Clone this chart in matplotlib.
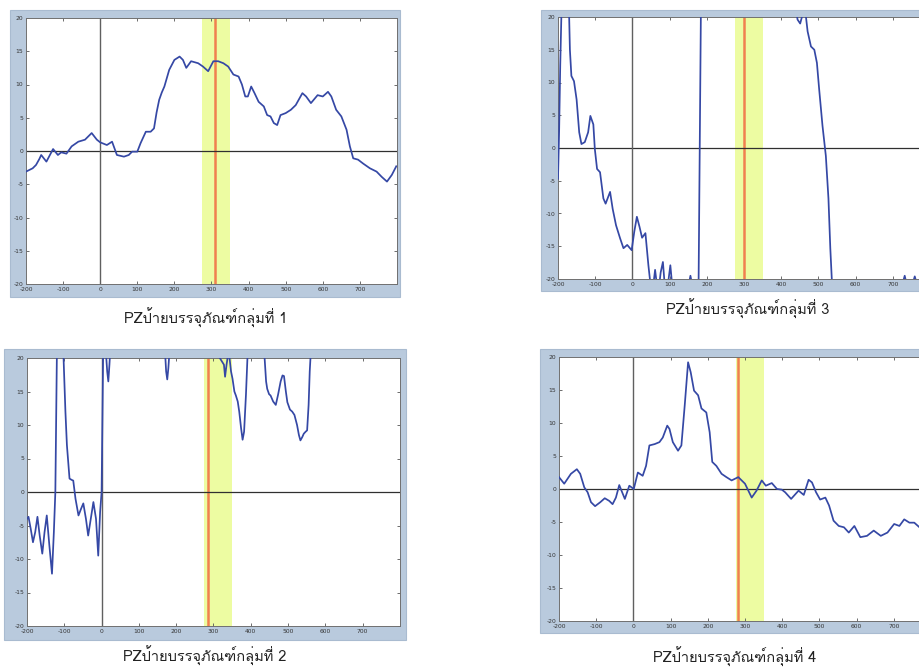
import matplotlib
matplotlib.use("Agg")
import matplotlib.pyplot as plt
from matplotlib.patches import Rectangle
from matplotlib import font_manager
from matplotlib.ft2font import FT2Font

plt.rcParams["axes.unicode_minus"] = False

# ---------------- data (time in ms, amplitude in uV) ----------------
t1 = [-200, -182, -173, -164, -159, -145, -127, -114, -105, -91, -77, -59, -41, -23, -9,
      0, 18, 32, 45, 64, 77, 86, 100, 109, 123, 136, 145, 152, 159, 166, 173, 186, 200,
      214, 223, 232, 245, 264, 277, 291, 305, 318, 332, 345, 359, 373, 382, 391, 398,
      407, 416, 427, 441, 450, 459, 468, 477, 486, 500, 514, 527, 545, 555, 568, 586,
      600, 614, 623, 636, 650, 664, 673, 682, 695, 709, 727, 745, 759, 773, 786, 798]
v1 = [-3.1, -2.6, -2.1, -1.2, -0.6, -1.6, 0.3, -0.6, -0.2, -0.4, 0.7, 1.4, 1.7, 2.7, 1.7,
      1.3, 0.9, 1.4, -0.6, -0.85, -0.6, -0.1, -0.1, 1.2, 2.9, 2.9, 3.4, 5.8, 7.7, 8.8, 9.7, 12.2, 13.7,
      14.2, 13.7, 12.5, 13.5, 13.2, 12.7, 12.0, 13.5, 13.5, 13.2, 12.7, 11.5, 11.2, 10.0, 8.2, 8.2,
      9.7, 8.7, 7.4, 6.7, 5.4, 5.2, 4.2, 3.9, 5.4, 5.7, 6.2, 6.9, 8.7, 8.2, 7.2, 8.4,
      8.2, 8.9, 8.2, 6.2, 5.2, 3.2, 0.7, -1.1, -1.3, -1.9, -2.6, -3.1, -3.9, -4.6, -3.6, -2.3]

t2 = [-200, -196, -190, -184, -178, -172, -166, -159, -153, -147, -140, -133, -128, -124,
      -120, -116, -105, -102, -97, -93, -86, -80, -76, -70, -62, -55, -49, -42, -36, -29,
      -22, -15, -9, -4, 0, 4, 8, 12, 15, 18, 21, 24, 100, 170, 173, 176, 179, 182, 250,
      328, 331, 335, 339, 343, 347, 351, 356, 360, 365, 369, 374, 378, 382, 387, 391, 395,
      430, 437, 441, 444, 449, 453, 460, 467, 473, 480, 485, 489, 494, 498, 505, 511, 517,
      524, 529, 533, 538, 542, 547, 551, 555, 558, 560, 563, 800]
v2 = [-4.0, -3.7, -5.5, -7.5, -6.0, -3.7, -6.5, -9.2, -6.0, -3.5, -8.0, -12.2, -6.0, 0.0,
      20.0, 28.0, 28.0, 20.0, 12.0, 7.0, 2.0, 1.8, 1.7, -1.0, -3.5, -2.5, -1.7, -4.0, -6.5, -4.0,
      -1.5, -4.0, -9.5, -3.0, 0.0, 20.0, 26.0, 20.5, 18.0, 16.5, 19.0, 22.0, 28.0, 21.0, 18.0, 16.8, 18.5, 21.0, 26.0,
      19.0, 17.2, 19.0, 20.5, 20.0, 18.0, 16.9, 15.0, 14.4, 13.5, 12.0, 9.5, 7.8, 9.0, 14.5, 20.0, 26.0,
      25.0, 20.0, 16.5, 15.4, 14.6, 14.4, 13.5, 13.0, 14.5, 16.5, 17.4, 17.3, 15.0, 13.4, 12.3, 12.0, 11.5,
      10.0, 8.5, 7.7, 8.2, 8.7, 9.0, 9.2, 13.0, 18.0, 20.0, 26.0, 28.0]

t3 = [-200, -197, -194, -191, -185, -175, -170, -168, -164, -157, -150, -143, -137, -128,
      -119, -113, -105, -101, -95, -87, -78, -72, -60, -53, -44, -33, -24, -14, -2, 5, 12,
      19, 26, 35, 43, 48, 54, 61, 66, 70, 76, 82, 87, 94, 102, 107, 115, 140, 151, 156,
      161, 170, 178, 181, 184, 188, 300, 440, 444, 451, 458, 464, 467, 471, 480, 489, 496,
      502, 511, 520, 527, 532, 536, 540, 600, 700, 725, 732, 738, 752, 759, 766, 800]
v3 = [-4.7, 2.5, 12.6, 20.0, 28.0, 28.0, 20.0, 15.0, 11.0, 10.2, 7.4, 2.4, 0.6, 0.9,
      2.4, 4.9, 3.6, -0.15, -3.2, -3.7, -7.7, -8.5, -6.7, -9.3, -11.8, -13.8, -15.3, -14.8, -15.6, -12.8, -10.5,
      -12.0, -13.7, -13.0, -17.9, -20.5, -22.0, -18.6, -21.0, -22.0, -19.0, -17.4, -21.0, -21.5, -17.9, -21.0, -24.0, -24.0, -21.0, -19.5,
      -21.0, -26.0, -20.0, 0.0, 20.0, 28.0, 28.0, 21.0, 19.6, 19.0, 20.5, 21.0, 19.8, 17.8, 15.5, 15.0, 13.0,
      9.0, 3.4, -1.2, -7.7, -15.3, -20.0, -26.0, -30.0, -24.0, -21.0, -19.5, -21.0, -21.0, -19.6, -21.0, -22.0]

t4 = [-200, -186, -168, -152, -143, -132, -123, -114, -103, -89, -77, -65, -56, -47, -38,
      -32, -23, -11, 1, 12, 25, 34, 43, 57, 70, 79, 91, 97, 106, 120, 129, 138, 147, 154,
      163, 174, 183, 196, 205, 212, 223, 237, 250, 264, 282, 300, 318, 331, 345, 356, 372,
      386, 399, 408, 424, 444, 458, 471, 480, 491, 502, 516, 526, 538, 552, 566, 579, 594,
      610, 628, 646, 665, 683, 701, 715, 728, 742, 755, 769, 800]
v4 = [1.8, 0.8, 2.3, 3.0, 2.3, 0.25, -0.5, -2.0, -2.6, -2.0, -1.4, -1.8, -2.3, -1.3, 0.6,
      -0.25, -1.5, 0.5, 0.0, 2.5, 2.0, 3.5, 6.6, 6.8, 7.1, 7.8, 9.6, 9.1, 7.1, 5.8, 6.6, 12.7, 19.2, 17.7,
      14.9, 14.2, 12.2, 11.6, 8.6, 4.1, 3.5, 2.3, 1.8, 1.3, 1.8, 0.8, -1.3, -0.25, 1.3, 0.5, 0.9,
      0.0, -0.1, -0.5, -1.5, -0.25, -0.9, 1.4, 1.0, -0.5, -1.6, -1.3, -2.5, -4.8, -5.6, -5.8, -6.6, -5.6,
      -7.3, -7.1, -6.3, -7.1, -6.6, -5.3, -5.6, -4.6, -5.1, -5.1, -5.8, -5.5]

titles = ["PZป้ายบรรจุภัณฑ์กลุ่มที่ 1", "PZป้ายบรรจุภัณฑ์กลุ่มที่ 2",
          "PZป้ายบรรจุภัณฑ์กลุ่มที่ 3", "PZป้ายบรรจุภัณฑ์กลุ่มที่ 4"]
window = [275, 350]              # shaded analysis window (ms)
markers = [310, 284, 300, 280]   # latency marker per group (ms)
xticks = list(range(-200, 800, 100))
yticks = list(range(-20, 25, 5))


def thai_family():
    for f in font_manager.fontManager.ttflist:
        try:
            cmap = FT2Font(f.fname).get_charmap()
        except Exception:
            continue
        if 0x0E1B in cmap and 0x0E49 in cmap and 0x0E20 in cmap:
            return f.name
    return None


fam = thai_family()
title_family = [fam, "DejaVu Sans"] if fam else ["DejaVu Sans"]

W, H = 920, 670
fig = plt.figure(figsize=(W / 100, H / 100), dpi=100)
fig.patch.set_facecolor("white")

# pixel layout: frame box, axes box, caption position
panels = [
    dict(t=t1, v=v1, frame=(10, 10, 400, 297), ax=(26, 18, 397, 284), cap=(206, 318)),
    dict(t=t2, v=v2, frame=(4, 349, 406, 640), ax=(27, 358, 400, 626), cap=(205, 656)),
    dict(t=t3, v=v3, frame=(541, 10, 960, 291), ax=(558, 17, 930, 279), cap=(748, 309)),
    dict(t=t4, v=v4, frame=(540, 349, 960, 633), ax=(559, 357, 931, 621), cap=(735, 657)),
]

for i, p in enumerate(panels):
    fx0, fy0, fx1, fy1 = p["frame"]
    fig.add_artist(Rectangle((fx0 / W, 1 - fy1 / H), (fx1 - fx0) / W, (fy1 - fy0) / H,
                             transform=fig.transFigure, facecolor="#b9cadd",
                             edgecolor="#a9bbd0", lw=0.8, zorder=0))
    ax0, ay0, ax1, ay1 = p["ax"]
    ax = fig.add_axes([ax0 / W, 1 - ay1 / H, (ax1 - ax0) / W, (ay1 - ay0) / H])
    ax.set_facecolor("white")
    ax.axvspan(window[0], window[1], color="#edfca2", lw=0, zorder=1)
    ax.axvline(markers[i], color="#f0804f", lw=1.8, zorder=2)
    ax.axhline(0, color="#303030", lw=0.9, zorder=2)
    ax.axvline(0, color="#606060", lw=1.0, zorder=2)
    ax.plot(p["t"], p["v"], color="#3548a5", lw=1.25, zorder=3)
    ax.set_xlim(-200, 800)
    ax.set_ylim(-20, 20)
    ax.set_xticks(xticks)
    ax.set_yticks(yticks)
    ax.tick_params(direction="in", length=2.5, width=0.6, colors="#555555",
                   labelsize=4.3, labelcolor="#333333", top=True, right=True, pad=2)
    for s in ax.spines.values():
        s.set_color("#707070")
        s.set_linewidth(0.7)
    cx, cy = p["cap"]
    fig.text(cx / W, 1 - cy / H, titles[i], ha="center", va="center",
             fontsize=10.5, color="#222222", family=title_family)

fig.savefig("out.png", dpi=100, facecolor="white")
